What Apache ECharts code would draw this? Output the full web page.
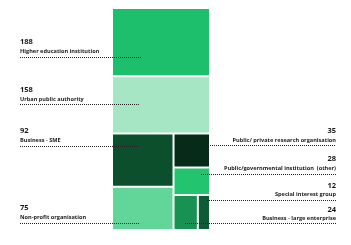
<!DOCTYPE html>
<html>
<head>
<meta charset="utf-8">
<style>
html,body{margin:0;padding:0;background:#fff;}
#main{width:351px;height:245px;}
</style>
<script src="https://cdn.jsdelivr.net/npm/echarts@6/dist/echarts.min.js"></script>
</head>
<body>
<div id="main"></div>
<script>
var categories = [
  'Higher education institution',
  'Urban public authority',
  'Business - SME',
  'Non-profit organisation',
  'Public/ private research organisation',
  'Public/governmental institution  (other)',
  'Special interest group',
  'Business - large enterprise'
];
var values = [188, 158, 92, 75, 35, 28, 12, 24];
var colors = ['#1ebf6c', '#a7e6c5', '#0b4f2d', '#62d598', '#062b19', '#22c46f', '#0e5c35', '#189252'];

// annotation layout: side, text x, number y, name y, line y, line x1, line x2
var annot = [
  {side:'left',  x:20,  ny:41.5, ty:51.5, ly:57.5,  x1:20,  x2:141},
  {side:'left',  x:20,  ny:90,   ty:99,   ly:104.5, x1:20,  x2:139},
  {side:'left',  x:20,  ny:131,  ty:140.5,ly:146.5, x1:20,  x2:140},
  {side:'left',  x:20,  ny:207.5,ty:217.5,ly:223.5, x1:20,  x2:140},
  {side:'right', x:336, ny:130.5,ty:140,  ly:145.5, x1:206, x2:336},
  {side:'right', x:336, ny:159,  ty:168.5,ly:174.5, x1:201, x2:336},
  {side:'right', x:336, ny:185.5,ty:194,  ly:200.5, x1:207, x2:336},
  {side:'right', x:336, ny:210,  ty:218,  ly:223.5, x1:185, x2:336}
];

var chart = echarts.init(document.getElementById('main'), null, {renderer:'canvas'});

var data = categories.map(function(c, i){
  return {name: c, value: values[i], itemStyle: {color: colors[i]}};
});

var graphics = [];
categories.forEach(function(c, i){
  var a = annot[i];
  var align = a.side === 'left' ? 'left' : 'right';
  graphics.push({
    type:'line', z:100, silent:true,
    shape:{x1:a.x1, y1:a.ly, x2:a.x2, y2:a.ly},
    style:{stroke:'#222', lineWidth:1, lineDash:[1,1]}
  });
  graphics.push({
    type:'text', z:100, silent:true, x:a.x, y:a.ny,
    style:{text:String(values[i]), fill:'#1a1a1a', font:'bold 7.5px "Open Sans", sans-serif', align:align, verticalAlign:'middle'}
  });
  graphics.push({
    type:'text', z:100, silent:true, x:a.x, y:a.ty,
    style:{text:c, fill:'#1a1a1a', font:'bold 5.6px "Open Sans", sans-serif', align:align, verticalAlign:'middle'}
  });
});

chart.setOption({
  animation:false,
  series:[{
    type:'treemap',
    left:113, top:9, width:96, height:220,
    roam:false, nodeClick:false,
    breadcrumb:{show:false},
    squareRatio: 1,
    label:{show:false},
    upperLabel:{show:false},
    levels:[
      {itemStyle:{borderWidth:0, gapWidth:2, borderColor:'#fff'}},
      {itemStyle:{borderWidth:0, gapWidth:0}}
    ],
    data:data
  }],
  graphic: graphics
});
</script>
</body>
</html>
